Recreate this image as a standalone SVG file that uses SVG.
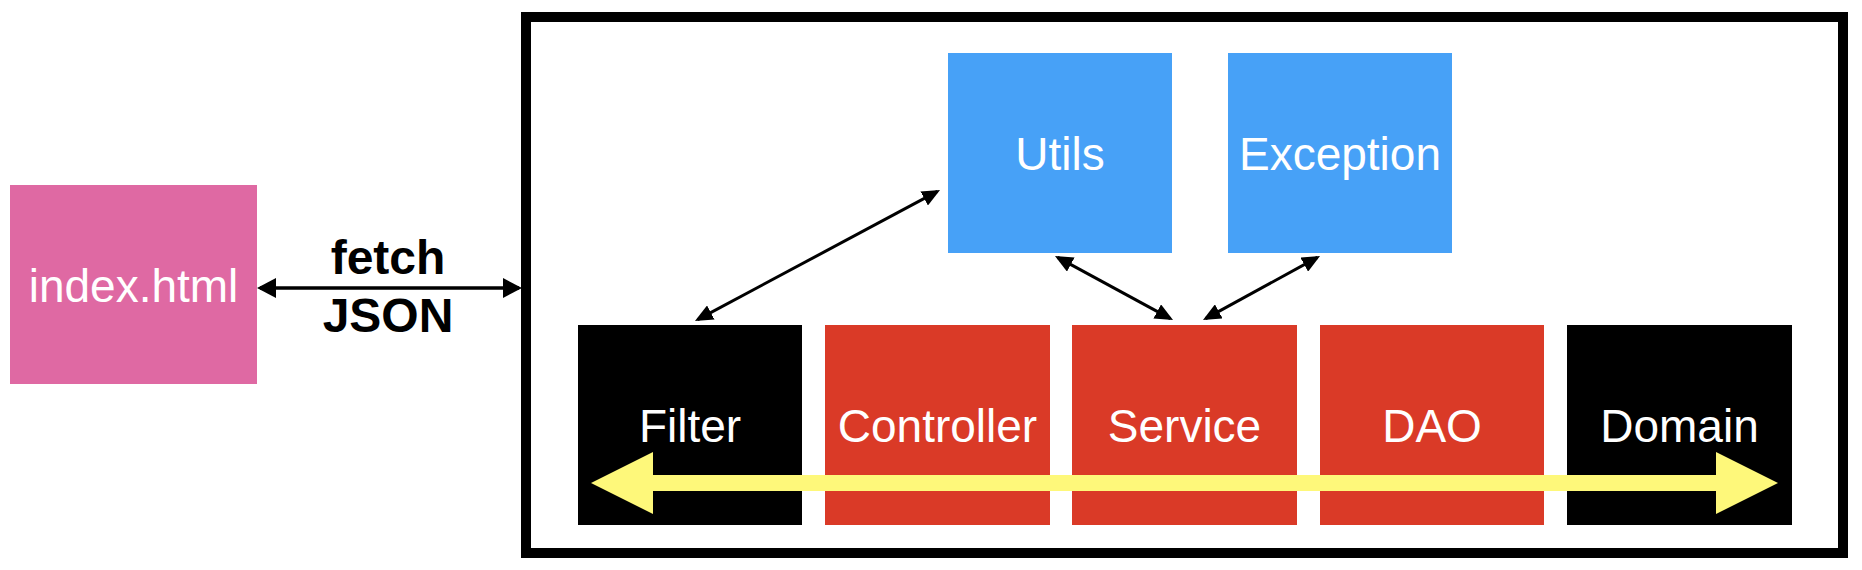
<svg xmlns="http://www.w3.org/2000/svg" width="1862" height="570" viewBox="0 0 1862 570">
<style>
.lbl{font-family:"Liberation Sans",Arial,Helvetica,sans-serif;font-size:46px;fill:#fff;text-anchor:middle}
.edge{font-family:"Liberation Sans",Arial,Helvetica,sans-serif;font-size:48px;font-weight:bold;fill:#000;text-anchor:middle}
.pink{fill:#DF69A3}
.blue{fill:#47A1F7}
.red{fill:#DA3A27}
.blk{fill:#000}
.conn{stroke:#000;stroke-width:3;fill:none;marker-start:url(#ah);marker-end:url(#ah)}
</style>
<defs>
<marker id="ah" viewBox="0 0 18 16" refX="15" refY="8" markerWidth="18" markerHeight="16" markerUnits="userSpaceOnUse" orient="auto-start-reverse">
<path d="M0,0 L18,8 L0,16 z" fill="#000"/>
</marker>
<marker id="ah2" viewBox="0 0 19 20" refX="16" refY="10" markerWidth="19" markerHeight="20" markerUnits="userSpaceOnUse" orient="auto-start-reverse">
<path d="M0,0 L19,10 L0,20 z" fill="#000"/>
</marker>
</defs>
<rect width="1862" height="570" fill="#fff"/>

<g id="backend">
<rect x="526" y="17" width="1317" height="536" fill="#fff" stroke="#000" stroke-width="10"/>
</g>

<g id="index">
<rect class="pink" x="10" y="185" width="247" height="199"/>
<text class="lbl" x="133.5" y="302">index.html</text>
</g>

<g id="utils">
<rect class="blue" x="948" y="53" width="224" height="200"/>
<text class="lbl" x="1060" y="170">Utils</text>
</g>

<g id="exception">
<rect class="blue" x="1228" y="53" width="224" height="200"/>
<text class="lbl" x="1340" y="170">Exception</text>
</g>

<g id="filter">
<rect class="blk" x="578" y="325" width="224" height="200"/>
<text class="lbl" x="690" y="442">Filter</text>
</g>

<g id="controller">
<rect class="red" x="825" y="325" width="225" height="200"/>
<text class="lbl" x="937.5" y="442">Controller</text>
</g>

<g id="service">
<rect class="red" x="1072" y="325" width="225" height="200"/>
<text class="lbl" x="1184.5" y="442">Service</text>
</g>

<g id="dao">
<rect class="red" x="1320" y="325" width="224" height="200"/>
<text class="lbl" x="1432" y="442">DAO</text>
</g>

<g id="domain">
<rect class="blk" x="1567" y="325" width="225" height="200"/>
<text class="lbl" x="1679.5" y="442">Domain</text>
</g>

<g id="connectors">
<line x1="260" y1="288" x2="519" y2="288" stroke="#000" stroke-width="3.5" marker-start="url(#ah2)" marker-end="url(#ah2)"/>
<text class="edge" x="388" y="274">fetch</text>
<text class="edge" x="388" y="332">JSON</text>
<line class="conn" x1="697.6" y1="319.6" x2="937.4" y2="191.4"/>
<line class="conn" x1="1057.6" y1="257.4" x2="1170.4" y2="318.6"/>
<line class="conn" x1="1205.6" y1="318.6" x2="1317.4" y2="257.4"/>
<polygon points="591,483 653,452 653,475 1716,475 1716,452 1778,483 1716,514 1716,491 653,491 653,514" fill="#FEF87A"/>
</g>
</svg>
